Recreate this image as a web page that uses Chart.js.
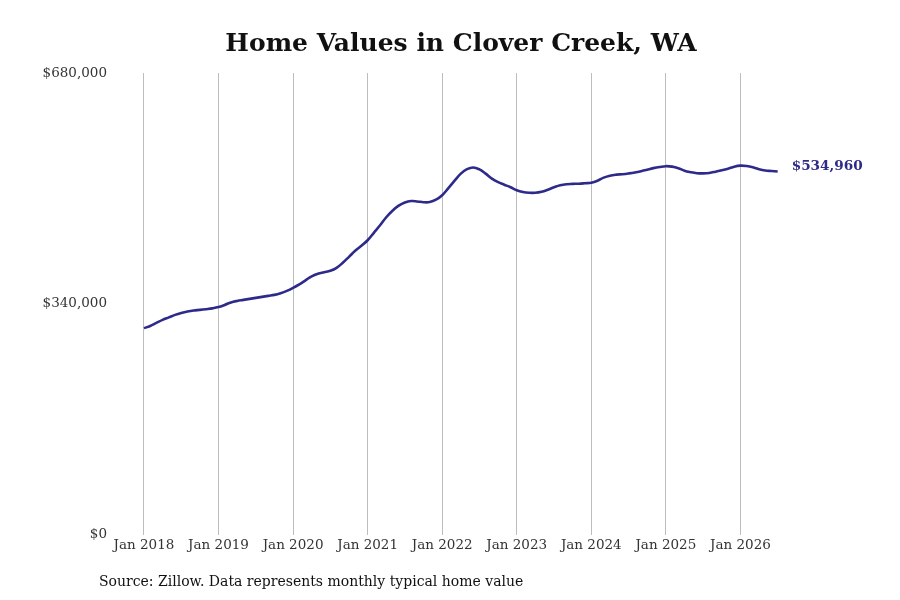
<!DOCTYPE html>
<html>
<head>
<meta charset="utf-8">
<title>Home Values in Clover Creek, WA</title>
<script src="https://cdn.jsdelivr.net/npm/chart.js@4"></script>
<style>
  html, body { margin: 0; padding: 0; background: #fff; }
  #wrap { position: relative; width: 900px; height: 600px; }
  #title {
    position: absolute; left: 11px; top: 28px; width: 900px;
    text-align: center; font: bold 25px "DejaVu Serif", serif; color: #111;
  }
  #source {
    position: absolute; left: 99px; top: 573px;
    font: 14px "DejaVu Serif", serif; color: #111;
  }
  canvas { position: absolute; left: 0; top: 0; }
</style>
</head>
<body>
<div id="wrap">
  <canvas id="chart" width="900" height="600"></canvas>
  <div id="title">Home Values in Clover Creek, WA</div>
  <div id="source">Source: Zillow. Data represents monthly typical home value</div>
</div>
<script>
/* ── Data ── */
// months since Jan 2018, monthly typical home value (Jan 2018 .. Jul 2026)
const homeValues = [
  304300, 307500, 312000, 316400, 320100, 323800, 326700, 328900, 330400, 331200, 332200, 333400,
  335300, 338500, 342200, 344400, 345900, 347400, 348900, 350300, 351800, 353300, 355800, 359200,
  363600, 368800, 374700, 380600, 384300, 386500, 388700, 393100, 400500, 409300, 418200, 425600,
  433700, 444700, 455800, 467600, 477200, 484600, 489400, 491500, 490900, 489700, 490000, 493400,
  500000, 510400, 521400, 531800, 538400, 540900, 538000, 531800, 524400, 519200, 515500, 511800,
  507400, 504800, 503700, 503700, 505200, 508200, 511800, 514800, 516300, 516700, 517000, 517700,
  518500, 521400, 525900, 528800, 530300, 531000, 532100, 533500, 535400, 537700, 539900, 541600,
  542800, 542100, 539900, 536200, 534000, 532500, 532200, 532800, 534700, 536900, 539100, 542100,
  543600, 543100, 541300, 538400, 536500, 535700, 534960
];
const tickMonths = [0, 12, 24, 36, 48, 60, 72, 84, 96];
const tickLabels = ['Jan 2018', 'Jan 2019', 'Jan 2020', 'Jan 2021', 'Jan 2022',
                    'Jan 2023', 'Jan 2024', 'Jan 2025', 'Jan 2026'];
const yTicks = [0, 340000, 680000];

const lineColor = '#2e2a8a';
const serif = '"DejaVu Serif", serif';

const fmtMoney = v => '$' + Math.round(v).toLocaleString('en-US');

/* ── End label plugin ── */
const endLabel = {
  id: 'endLabel',
  afterDatasetsDraw(chart) {
    const { ctx } = chart;
    const meta = chart.getDatasetMeta(0);
    const last = meta.data[meta.data.length - 1];
    const value = homeValues[homeValues.length - 1];
    ctx.save();
    ctx.font = 'bold 13.6px ' + serif;
    ctx.fillStyle = lineColor;
    ctx.textAlign = 'left';
    ctx.textBaseline = 'middle';
    ctx.fillText(fmtMoney(value), last.x + 14, last.y - 5);
    ctx.restore();
  }
};

new Chart(document.getElementById('chart'), {
  type: 'line',
  data: {
    datasets: [{
      data: homeValues.map((v, i) => ({ x: i, y: v })),
      borderColor: lineColor,
      borderWidth: 2.6,
      pointRadius: 0,
      tension: 0.4,
      fill: false
    }]
  },
  options: {
    responsive: false,
    animation: false,
    layout: { padding: { top: 73, right: 113, bottom: 43, left: 0 } },
    plugins: { legend: { display: false }, tooltip: { enabled: false } },
    scales: {
      x: {
        type: 'linear',
        min: -4.5,
        max: 103.5,
        afterBuildTicks: axis => { axis.ticks = tickMonths.map(v => ({ value: v })); },
        ticks: {
          color: '#333',
          font: { family: serif, size: 13.5 },
          padding: 3,
          maxRotation: 0,
          autoSkip: false,
          callback: (v) => tickLabels[tickMonths.indexOf(v)]
        },
        grid: { color: '#bdbdbd', lineWidth: 1, drawTicks: false },
        border: { display: false }
      },
      y: {
        min: 0,
        max: 680000,
        afterBuildTicks: axis => { axis.ticks = yTicks.map(v => ({ value: v })); },
        afterFit: axis => { axis.width = 116; },
        ticks: {
          color: '#333',
          font: { family: serif, size: 13.5 },
          padding: 9,
          callback: v => fmtMoney(v)
        },
        grid: { display: false, drawTicks: false },
        border: { display: false }
      }
    }
  },
  plugins: [endLabel]
});
</script>
</body>
</html>
